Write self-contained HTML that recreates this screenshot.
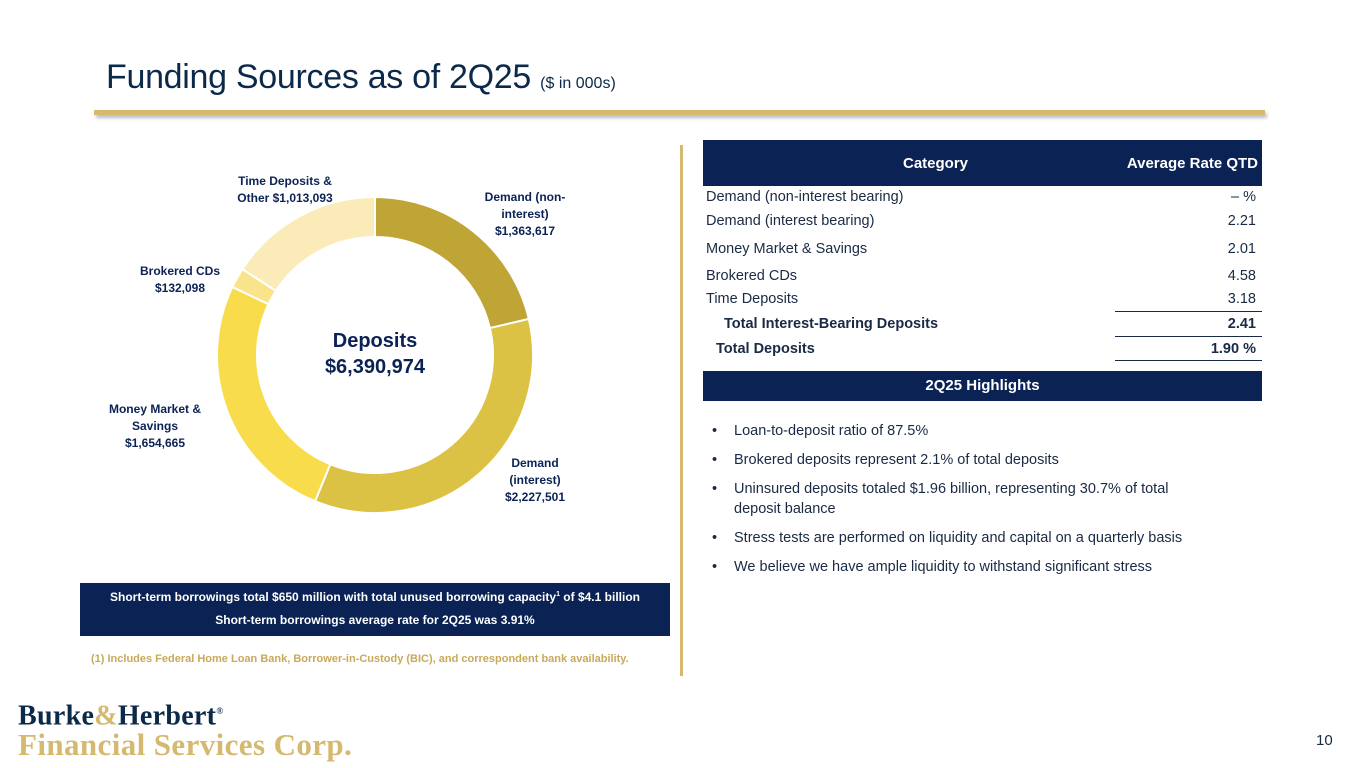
<!DOCTYPE html>
<html><head><meta charset="utf-8"><style>
body{margin:0;width:1365px;height:768px;position:relative;background:#fff;font-family:"Liberation Sans",sans-serif;overflow:hidden;color:#1a2a44}
.a{position:absolute}
.lbl{position:absolute;font-size:12px;font-weight:bold;color:#0b2254;text-align:center;line-height:17px}
.row{position:absolute;left:706px;width:550px;font-size:14.5px;color:#1a2a44}
.row span{position:absolute;right:0}
.bul{position:absolute;left:734px;font-size:14.5px;color:#1a2a44;line-height:20px}
.bul:before{content:"•";position:absolute;left:-22px}
</style></head><body>
<div class="a" style="left:106px;top:58px;font-size:34px;letter-spacing:-0.3px;color:#0b2a4a;white-space:nowrap">Funding Sources as of 2Q25 <span style="font-size:16px;letter-spacing:0">($ in 000s)</span></div>
<div class="a" style="left:94px;top:110px;width:1171px;height:5px;background:#d4b96f;box-shadow:2px 3px 3px #bbbbcc"></div>
<div class="a" style="left:680px;top:145px;width:3px;height:531px;background:#d4b96f"></div>

<svg class="a" style="left:0;top:0" width="680" height="580" id="donut"></svg>
<div class="a" style="left:295px;top:328px;width:160px;text-align:center;font-size:20px;font-weight:bold;color:#0b2254;line-height:26px">Deposits<br>$6,390,974</div>
<div class="lbl" style="left:470px;top:189px;width:110px">Demand (non-<br>interest)<br>$1,363,617</div>
<div class="lbl" style="left:480px;top:455px;width:110px">Demand<br>(interest)<br>$2,227,501</div>
<div class="lbl" style="left:100px;top:401px;width:110px">Money Market &amp;<br>Savings<br>$1,654,665</div>
<div class="lbl" style="left:125px;top:263px;width:110px">Brokered CDs<br>$132,098</div>
<div class="lbl" style="left:215px;top:173px;width:140px">Time Deposits &amp;<br>Other $1,013,093</div>

<div class="a" style="left:80px;top:583px;width:590px;height:53px;background:#0b2254;color:#fff;font-size:12px;font-weight:bold;text-align:center">
<div style="margin-top:7px">Short-term borrowings total $650 million with total unused borrowing capacity<sup style="font-size:7px">1</sup> of $4.1 billion</div>
<div style="margin-top:9px">Short-term borrowings average rate for 2Q25 was 3.91%</div></div>
<div class="a" style="left:91px;top:653px;font-size:11px;font-weight:bold;color:#c9a95a">(1) Includes Federal Home Loan Bank, Borrower-in-Custody (BIC), and correspondent bank availability.</div>

<div class="a" style="left:703px;top:140px;width:559px;height:46px;background:#0b2254;color:#fff;font-size:15px;font-weight:bold">
<span style="position:absolute;left:200px;top:15px">Category</span><span style="position:absolute;right:4px;top:15px">Average Rate QTD</span></div>
<div class="row" style="top:189px">Demand (non-interest bearing)<span>– %</span></div>
<div class="row" style="top:213px">Demand (interest bearing)<span>2.21</span></div>
<div class="row" style="top:241px">Money Market &amp; Savings<span>2.01</span></div>
<div class="row" style="top:268px">Brokered CDs<span>4.58</span></div>
<div class="row" style="top:291px">Time Deposits<span>3.18</span></div>
<div class="a" style="left:1115px;top:311px;width:147px;height:1px;background:#1a2a44"></div>
<div class="row" style="top:316px;font-weight:bold"><b style="margin-left:18px">Total Interest-Bearing Deposits</b><span>2.41</span></div>
<div class="a" style="left:1115px;top:336px;width:147px;height:1px;background:#1a2a44"></div>
<div class="row" style="top:341px;font-weight:bold"><b style="margin-left:10px">Total Deposits</b><span>1.90 %</span></div>
<div class="a" style="left:1115px;top:360px;width:147px;height:1px;background:#1a2a44"></div>
<div class="a" style="left:703px;top:371px;width:559px;height:30px;background:#0b2254;color:#fff;font-size:15px;font-weight:bold;text-align:center;line-height:30px">2Q25 Highlights</div>
<div class="bul" style="top:421px">Loan-to-deposit ratio of 87.5%</div>
<div class="bul" style="top:450px">Brokered deposits represent 2.1% of total deposits</div>
<div class="bul" style="top:479px;width:475px">Uninsured deposits totaled $1.96 billion, representing 30.7% of total deposit balance</div>
<div class="bul" style="top:528px">Stress tests are performed on liquidity and capital on a quarterly basis</div>
<div class="bul" style="top:557px">We believe we have ample liquidity to withstand significant stress</div>

<div class="a" style="left:18px;top:697px;font-family:'Liberation Serif',serif;font-weight:bold;line-height:29px;white-space:nowrap">
<div style="font-size:28px;color:#0b2a4a;letter-spacing:0.3px">Burke<span style="color:#d4b96f">&amp;</span>Herbert<sup style="font-size:9px">®</sup></div>
<div style="font-size:31px;color:#d4b96f;letter-spacing:0.4px">Financial Services Corp.</div></div>
<div class="a" style="left:1316px;top:732px;font-size:15px;color:#1a2a44">10</div>

<script>
const categories=["Demand (non-interest)","Demand (interest)","Money Market & Savings","Brokered CDs","Time Deposits & Other"];
const values=[1363617,2227501,1654665,132098,1013093];
const colors=["#bfa535","#dcc244","#f8dc4c","#f9e48c","#faebb8"];
const svg=document.getElementById('donut');
const cx=375,cy=355,R=158,r=118;
const total=values.reduce((a,b)=>a+b,0);
let acc=0;
function pt(rad,f){const a=f*2*Math.PI-Math.PI/2;return [cx+rad*Math.cos(a),cy+rad*Math.sin(a)];}
values.forEach((v,i)=>{
 const f0=acc/total,f1=(acc+v)/total;acc+=v;
 const lg=(f1-f0)>0.5?1:0;
 const [x0,y0]=pt(R,f0),[x1,y1]=pt(R,f1),[x2,y2]=pt(r,f1),[x3,y3]=pt(r,f0);
 const p=document.createElementNS('http://www.w3.org/2000/svg','path');
 p.setAttribute('d',`M${x0},${y0}A${R},${R} 0 ${lg} 1 ${x1},${y1}L${x2},${y2}A${r},${r} 0 ${lg} 0 ${x3},${y3}Z`);
 p.setAttribute('fill',colors[i]);p.setAttribute('stroke','#fff');p.setAttribute('stroke-width','2');
 
 
 svg.appendChild(p);
});
</script>
</body></html>
